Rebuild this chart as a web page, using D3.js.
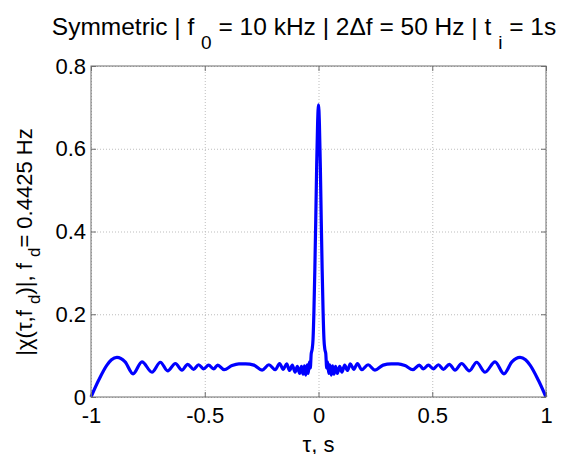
<!DOCTYPE html>
<html>
<head>
<meta charset="utf-8">
<script src="https://cdn.jsdelivr.net/npm/d3@7"></script>
<style>
  body { margin: 0; background: #fff; }
  text { font-family: "Liberation Sans", Arial, sans-serif; fill: #000; }
</style>
</head>
<body>
<div id="chart"></div>
<script>
/* global d3 */

// delay values (s) and |chi|
const tau = [
  -1.000, -0.966, -0.930, -0.910, -0.886, -0.850, -0.815, -0.776, -0.732, -0.695,
  -0.663, -0.629, -0.600, -0.575, -0.549, -0.527, -0.505, -0.483, -0.461, -0.443,
  -0.415, -0.380, -0.350, -0.320, -0.284, -0.248, -0.218, -0.190, -0.171, -0.155,
  -0.140, -0.127, -0.115, -0.103, -0.093, -0.083, -0.075, -0.068, -0.062, -0.056,
  -0.050, -0.045, -0.040, -0.036, -0.032, -0.028, -0.024, -0.020, -0.016, -0.012,
  -0.008, -0.004, 0.000,
  0.004, 0.008, 0.012, 0.016, 0.020, 0.024, 0.028, 0.032, 0.036, 0.040,
  0.045, 0.050, 0.056, 0.062, 0.068, 0.075, 0.083, 0.093, 0.103, 0.115,
  0.127, 0.140, 0.155, 0.171, 0.190, 0.218, 0.248, 0.284, 0.320, 0.350,
  0.380, 0.415, 0.443, 0.461, 0.483, 0.505, 0.527, 0.549, 0.575, 0.600,
  0.629, 0.663, 0.695, 0.732, 0.776, 0.815, 0.850, 0.886, 0.910, 0.930,
  0.966, 1.000
]
const amp = [
  0.000, 0.041, 0.077, 0.090, 0.096, 0.085, 0.056, 0.085, 0.060, 0.084,
  0.063, 0.081, 0.065, 0.079, 0.067, 0.078, 0.068, 0.077, 0.068, 0.077,
  0.066, 0.076, 0.080, 0.080, 0.077, 0.065, 0.078, 0.066, 0.081, 0.067,
  0.080, 0.064, 0.077, 0.060, 0.074, 0.057, 0.074, 0.055, 0.075, 0.053,
  0.078, 0.057, 0.085, 0.070, 0.105, 0.115, 0.140, 0.210, 0.310, 0.430,
  0.560, 0.660, 0.706,
  0.660, 0.560, 0.430, 0.310, 0.210, 0.140, 0.115, 0.105, 0.070, 0.085,
  0.057, 0.078, 0.053, 0.075, 0.055, 0.074, 0.057, 0.074, 0.060, 0.077,
  0.064, 0.080, 0.067, 0.081, 0.066, 0.078, 0.065, 0.077, 0.080, 0.080,
  0.076, 0.066, 0.077, 0.068, 0.077, 0.068, 0.078, 0.067, 0.079, 0.065,
  0.081, 0.063, 0.084, 0.060, 0.085, 0.056, 0.085, 0.096, 0.090, 0.077,
  0.041, 0.000
]

const xTicks = [-1, -0.5, 0, 0.5, 1]
const xTickLabels = ['-1', '-0.5', '0', '0.5', '1']
const yTicks = [0, 0.2, 0.4, 0.6, 0.8]
const yTickLabels = ['0', '0.2', '0.4', '0.6', '0.8']

// Our canvas
const width = 563,
    height = 454
const margin = {top: 66, right: 17, bottom: 57, left: 91}
const innerW = width - margin.left - margin.right,
    innerH = height - margin.top - margin.bottom

let svg = d3.select('#chart')
    .append('svg')
    .attr('width', width)
    .attr('height', height)
    .style('background', '#fff')

let g = svg.append('g')
    .attr('transform', `translate(${margin.left},${margin.top})`)

const xScale = d3.scaleLinear().domain([-1, 1]).range([0, innerW])
const yScale = d3.scaleLinear().domain([0, 0.8]).range([innerH, 0])

// grid
g.append('g')
    .attr('class', 'grid')
    .attr('transform', `translate(0,${innerH})`)
    .call(d3.axisBottom(xScale).tickValues(xTicks).tickSize(-innerH).tickFormat(''))
g.append('g')
    .attr('class', 'grid')
    .call(d3.axisLeft(yScale).tickValues(yTicks).tickSize(-innerW).tickFormat(''))
g.selectAll('.grid .domain').remove()
g.selectAll('.grid line')
    .attr('stroke', '#bdbdbd')
    .attr('stroke-dasharray', '1,2')

// curve
const line = d3.line()
    .x((d, i) => xScale(tau[i]))
    .y(d => yScale(d))
    .curve(d3.curveMonotoneX)

g.append('path')
    .datum(amp)
    .attr('fill', 'none')
    .attr('stroke', '#0000ff')
    .attr('stroke-width', 3.2)
    .attr('stroke-linejoin', 'round')
    .attr('d', line)

// axes with inward ticks
const fontSize = 22
let axB = g.append('g')
    .attr('transform', `translate(0,${innerH})`)
    .call(d3.axisBottom(xScale).tickValues(xTicks).tickSizeInner(-5).tickSizeOuter(0)
        .tickPadding(10).tickFormat((d, i) => xTickLabels[i]))
let axT = g.append('g')
    .call(d3.axisTop(xScale).tickValues(xTicks).tickSizeInner(-5).tickSizeOuter(0).tickFormat(''))
let axL = g.append('g')
    .call(d3.axisLeft(yScale).tickValues(yTicks).tickSizeInner(-5).tickSizeOuter(0)
        .tickPadding(10).tickFormat((d, i) => yTickLabels[i]))
let axR = g.append('g')
    .attr('transform', `translate(${innerW},0)`)
    .call(d3.axisRight(yScale).tickValues(yTicks).tickSizeInner(-5).tickSizeOuter(0).tickFormat(''))

;[axB, axT, axL, axR].forEach(a => {
    a.select('.domain').remove()
    a.selectAll('line').attr('stroke', '#6e6e6e')
    a.selectAll('text')
        .style('font-size', fontSize + 'px')
        .style('font-family', '"Liberation Sans", Arial, sans-serif')
        .attr('fill', '#000')
})
axL.selectAll('text').attr('x', -5)

g.append('rect')
    .attr('width', innerW)
    .attr('height', innerH)
    .attr('fill', 'none')
    .attr('stroke', '#6e6e6e')
    .attr('stroke-width', 1)

// title
let title = svg.append('text')
    .attr('x', 304)
    .attr('y', 35)
    .attr('text-anchor', 'middle')
    .style('font-size', '24.5px')
title.append('tspan').text('Symmetric | f ')
title.append('tspan').attr('dy', 14).style('font-size', '19px').text('0')
title.append('tspan').attr('dy', -14).text(' = 10 kHz | 2\u0394f = 50 Hz | t ')
title.append('tspan').attr('dy', 14).style('font-size', '19px').text('i')
title.append('tspan').attr('dy', -14).text(' = 1s')

// x label
svg.append('text')
    .attr('x', margin.left + innerW / 2)
    .attr('y', 452)
    .attr('text-anchor', 'middle')
    .style('font-size', '22px')
    .text('\u03c4, s')

// y label
let yl = svg.append('text')
    .attr('transform', `translate(32,242) rotate(-90)`)
    .attr('text-anchor', 'middle')
    .style('font-size', '22px')
yl.append('tspan').text('|\u03c7(\u03c4,f ')
yl.append('tspan').attr('dy', 8).style('font-size', '17px').text('d')
yl.append('tspan').attr('dy', -8).text(')|, f ')
yl.append('tspan').attr('dy', 8).style('font-size', '17px').text('d')
yl.append('tspan').attr('dy', -8).text('= 0.4425 Hz')
</script>
</body>
</html>
